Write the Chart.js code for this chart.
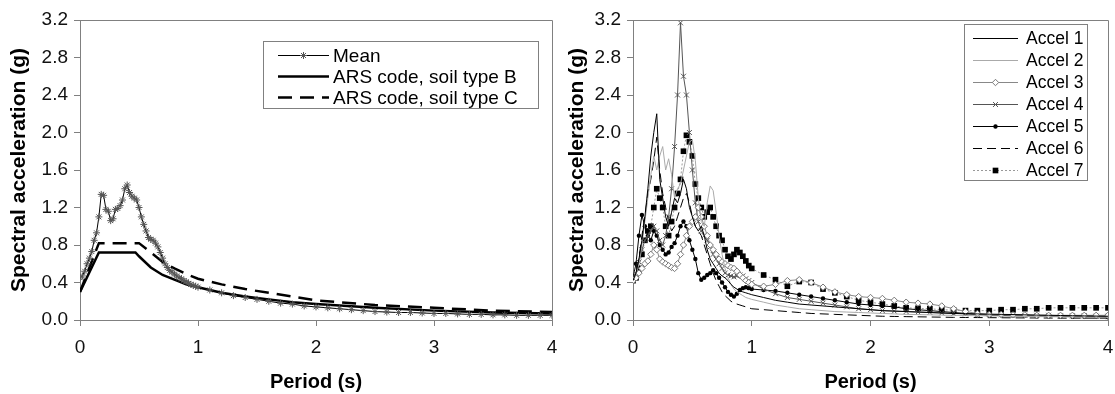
<!DOCTYPE html>
<html><head><meta charset="utf-8">
<script src="https://cdn.jsdelivr.net/npm/chart.js@4.4.1/dist/chart.umd.min.js"></script>
<style>
html,body{margin:0;padding:0;background:#fff;width:1115px;height:394px;overflow:hidden}
#c1{position:absolute;left:0;top:0;width:558px;height:394px}
#c2{position:absolute;left:558px;top:0;width:557px;height:394px}
</style></head><body>
<canvas id="c1" width="558" height="394"></canvas>
<canvas id="c2" width="557" height="394"></canvas>
<script>
// ---------- DATA ----------
const xTickValues = [0, 1, 2, 3, 4];
const xTickLabels = ['0', '1', '2', '3', '4'];
const yTickValues = [0, 0.4, 0.8, 1.2, 1.6, 2.0, 2.4, 2.8, 3.2];
const yTickLabels = ['0.0', '0.4', '0.8', '1.2', '1.6', '2.0', '2.4', '2.8', '3.2'];

const meanPeriods = [0,0.02,0.04,0.06,0.08,0.1,0.12,0.14,0.16,0.18,0.2,0.22,0.24,0.26,0.28,0.3,0.32,0.34,0.36,0.38,0.4,0.42,0.44,0.46,0.48,0.5,0.52,0.54,0.56,0.58,0.6,0.62,0.64,0.66,0.68,0.7,0.72,0.74,0.76,0.78,0.8,0.82,0.84,0.86,0.88,0.9,0.92,0.94,0.96,0.98,1.0,1.1,1.2,1.3,1.4,1.5,1.6,1.7,1.8,1.9,2.0,2.1,2.2,2.3,2.4,2.5,2.6,2.7,2.8,2.9,3.0,3.1,3.2,3.3,3.4,3.5,3.6,3.7,3.8,3.9,4.0];
const meanValues = [0.45,0.47,0.52,0.60,0.66,0.73,0.85,0.93,1.10,1.34,1.33,1.18,1.16,1.06,1.08,1.18,1.19,1.22,1.28,1.40,1.44,1.36,1.32,1.30,1.28,1.20,1.10,1.02,0.95,0.88,0.86,0.85,0.82,0.78,0.72,0.66,0.60,0.56,0.53,0.51,0.49,0.47,0.45,0.44,0.42,0.41,0.39,0.38,0.37,0.36,0.35,
  0.32,0.29,0.26,0.24,0.22,0.20,0.18,0.17,0.15,0.14,0.13,0.12,0.11,0.10,0.09,0.085,0.08,0.08,0.075,0.07,0.07,0.065,0.06,0.06,0.055,0.055,0.05,0.05,0.05,0.05];

const codeBPeriods = [0,0.16,0.47,0.5,0.6,0.7,0.8,0.9,1.0,1.2,1.4,1.6,1.8,2.0,2.5,3.0,3.5,4.0];
const codeBValues  = [0.30,0.72,0.72,0.68,0.56,0.48,0.43,0.38,0.35,0.29,0.25,0.22,0.19,0.17,0.13,0.10,0.08,0.07];
const codeCPeriods = [0,0.16,0.5,0.6,0.7,0.8,0.9,1.0,1.2,1.4,1.6,1.8,2.0,2.5,3.0,3.5,4.0];
const codeCValues  = [0.30,0.82,0.82,0.72,0.62,0.55,0.49,0.44,0.38,0.33,0.29,0.25,0.21,0.16,0.13,0.10,0.085];

const accelPeriods = [0,0.025,0.05,0.075,0.1,0.125,0.15,0.175,0.2,0.225,0.25,0.275,0.3,0.325,0.35,0.375,0.4,0.425,0.45,0.475,0.5,0.525,0.55,0.575,0.6,0.625,0.65,0.675,0.7,0.725,0.75,0.775,0.8,0.825,0.85,0.875,0.9,0.925,0.95,0.975,1.0,
  1.1,1.2,1.3,1.4,1.5,1.6,1.7,1.8,1.9,2.0,2.1,2.2,2.3,2.4,2.5,2.6,2.7,2.8,2.9,3.0,3.1,3.2,3.3,3.4,3.5,3.6,3.7,3.8,3.9,4.0];
const accel1 = [0.42,0.50,0.65,0.85,1.10,1.40,1.75,2.00,2.20,1.50,1.30,1.10,1.00,1.15,1.30,1.25,1.35,1.50,1.40,1.20,1.10,1.00,0.95,1.00,0.90,0.75,0.65,0.60,0.55,0.50,0.47,0.45,0.42,0.38,0.35,0.33,0.31,0.30,0.29,0.28,0.27,
  0.24,0.21,0.19,0.17,0.16,0.15,0.14,0.13,0.12,0.11,0.10,0.095,0.09,0.085,0.08,0.075,0.07,0.068,0.065,0.062,0.06,0.058,0.055,0.052,0.05,0.048,0.046,0.044,0.042,0.04];
const accel2 = [0.42,0.48,0.60,0.80,1.05,1.30,1.55,1.75,1.60,1.75,1.85,1.60,1.72,1.55,1.30,1.40,1.45,1.60,1.75,1.90,1.92,1.70,1.30,1.05,1.00,1.25,1.43,1.38,1.15,0.90,0.70,0.55,0.45,0.38,0.33,0.30,0.28,0.26,0.24,0.23,0.22,
  0.19,0.16,0.14,0.12,0.11,0.10,0.09,0.085,0.08,0.075,0.07,0.065,0.06,0.058,0.055,0.052,0.05,0.048,0.046,0.044,0.042,0.04,0.038,0.036,0.035,0.034,0.033,0.032,0.031,0.03];
const accel3 = [0.42,0.45,0.50,0.55,0.60,0.63,0.70,0.80,0.75,0.65,0.62,0.60,0.58,0.56,0.55,0.60,0.70,0.80,0.90,1.00,1.05,1.10,1.20,1.10,1.00,0.90,0.80,0.75,0.70,0.65,0.62,0.60,0.58,0.56,0.55,0.52,0.48,0.45,0.42,0.40,0.38,
  0.36,0.38,0.42,0.43,0.40,0.35,0.30,0.27,0.25,0.24,0.23,0.21,0.19,0.18,0.17,0.15,0.12,0.09,0.07,0.06,0.06,0.055,0.055,0.05,0.05,0.05,0.05,0.05,0.05,0.05];
const accel4 = [0.42,0.50,0.62,0.75,0.85,0.90,0.95,1.00,0.95,0.85,0.80,0.90,1.10,1.40,1.85,2.40,3.17,2.60,2.40,2.00,1.60,1.25,1.05,0.95,0.90,0.85,0.78,0.70,0.65,0.60,0.55,0.50,0.48,0.47,0.46,0.47,0.48,0.47,0.44,0.42,0.40,
  0.33,0.28,0.24,0.22,0.20,0.18,0.16,0.14,0.12,0.11,0.10,0.095,0.09,0.085,0.08,0.075,0.07,0.065,0.06,0.06,0.055,0.055,0.05,0.05,0.05,0.045,0.045,0.045,0.04,0.04];
const accel5 = [0.45,0.60,0.90,1.12,1.00,0.90,0.85,0.95,0.90,0.80,0.75,0.70,0.72,0.78,0.82,0.90,1.00,1.05,1.00,0.85,0.75,0.65,0.50,0.43,0.45,0.48,0.50,0.53,0.50,0.45,0.40,0.35,0.30,0.27,0.25,0.28,0.32,0.34,0.35,0.34,0.33,
  0.32,0.31,0.29,0.27,0.25,0.23,0.21,0.19,0.17,0.16,0.15,0.14,0.12,0.11,0.10,0.09,0.08,0.07,0.06,0.05,0.05,0.045,0.045,0.04,0.04,0.04,0.035,0.035,0.035,0.03];
const accel6 = [0.42,0.50,0.65,0.90,1.10,1.35,1.50,1.70,1.95,1.60,1.35,1.20,1.05,0.95,1.00,1.10,1.20,1.30,1.35,1.25,1.10,1.00,0.95,0.90,0.80,0.70,0.60,0.50,0.42,0.36,0.30,0.26,0.23,0.20,0.18,0.17,0.16,0.15,0.14,0.13,0.12,
  0.11,0.10,0.09,0.08,0.07,0.065,0.06,0.055,0.05,0.045,0.04,0.038,0.036,0.034,0.032,0.03,0.028,0.027,0.026,0.025,0.024,0.023,0.022,0.022,0.021,0.02,0.02,0.02,0.02,0.02];
const accel7 = [0.42,0.45,0.55,0.70,0.85,0.95,1.00,1.20,1.40,1.30,1.20,1.00,0.90,1.05,1.20,1.35,1.50,1.80,1.97,1.90,1.75,1.45,1.30,1.20,1.10,1.15,1.20,1.10,1.00,0.90,0.85,0.75,0.68,0.65,0.70,0.75,0.72,0.68,0.63,0.58,0.55,
  0.48,0.43,0.36,0.41,0.40,0.33,0.29,0.25,0.21,0.19,0.17,0.15,0.13,0.125,0.12,0.11,0.105,0.10,0.10,0.10,0.11,0.11,0.12,0.12,0.13,0.13,0.13,0.13,0.13,0.13];

// ---------- HELPERS ----------
const FONT = "'Liberation Sans', Arial, sans-serif";
const AXIS_GRAY = '#808080';
const pts = (xs, ys) => xs.map((x, i) => ({x: x, y: ys[i]}));

const framePlugin = {
  id: 'frame',
  afterDatasetsDraw(chart) {
    const a = chart.chartArea, ctx = chart.ctx;
    ctx.save();
    ctx.strokeStyle = AXIS_GRAY; ctx.lineWidth = 1;
    ctx.beginPath();
    ctx.moveTo(Math.round(a.left) + 0.5, Math.round(a.top) + 0.5);
    ctx.lineTo(Math.round(a.right) + 0.5, Math.round(a.top) + 0.5);
    ctx.lineTo(Math.round(a.right) + 0.5, Math.round(a.bottom) + 0.5);
    ctx.stroke();
    ctx.restore();
  }
};

const boxLegend = {
  id: 'boxLegend',
  afterDraw(chart, args, o) {
    const ctx = chart.ctx;
    ctx.save();
    ctx.fillStyle = '#fff';
    ctx.fillRect(o.x, o.y, o.w, o.h);
    ctx.strokeStyle = AXIS_GRAY; ctx.lineWidth = 1;
    ctx.strokeRect(o.x + 0.5, o.y + 0.5, o.w, o.h);
    chart.data.datasets.forEach((ds, i) => {
      const cy = Math.round(o.rowY + i * o.rowH) + 0.5;
      ctx.save();
      ctx.strokeStyle = ds.borderColor;
      ctx.lineWidth = ds.borderWidth;
      ctx.setLineDash(ds.borderDash || []);
      ctx.beginPath(); ctx.moveTo(o.sx0, cy); ctx.lineTo(o.sx1, cy); ctx.stroke();
      ctx.setLineDash([]);
      if (ds.pointRadius > 0) {
        ctx.fillStyle = ds.pointBackgroundColor;
        ctx.strokeStyle = ds.pointBorderColor;
        ctx.lineWidth = ds.pointBorderWidth;
        Chart.helpers.drawPoint(ctx, {pointStyle: ds.pointStyle, radius: ds.pointRadius, borderWidth: ds.pointBorderWidth, rotation: 0}, (o.sx0 + o.sx1) / 2, cy);
      }
      ctx.fillStyle = '#000';
      ctx.font = o.font;
      ctx.textBaseline = 'middle';
      ctx.textAlign = 'left';
      ctx.fillText(ds.label, o.tx, cy + 1);
      ctx.restore();
    });
    ctx.restore();
  }
};

function makeScales(yWidth) {
  const grid = {display: true, drawOnChartArea: false, drawTicks: true, tickLength: 6, color: AXIS_GRAY, tickColor: AXIS_GRAY, lineWidth: 1};
  return {
    x: {
      type: 'linear', min: 0, max: 4,
      afterBuildTicks: s => { s.ticks = xTickValues.map(v => ({value: v})); },
      afterFit: s => { s.height = 74; s.paddingLeft = 0; s.paddingRight = 0; },
      grid: grid,
      border: {display: true, color: AXIS_GRAY, width: 1},
      ticks: {color: '#111', font: {family: FONT, size: 19}, padding: 10, maxRotation: 0,
              callback: (v, i) => xTickLabels[i]},
      title: {display: true, text: 'Period (s)', color: '#000', font: {family: FONT, size: 20, weight: 'bold'}, padding: {top: 0, bottom: 0}}
    },
    y: {
      type: 'linear', min: 0, max: 3.2,
      afterBuildTicks: s => { s.ticks = yTickValues.map(v => ({value: v})); },
      afterFit: s => { s.width = yWidth; s.paddingTop = 0; s.paddingBottom = 0; },
      grid: grid,
      border: {display: true, color: AXIS_GRAY, width: 1},
      ticks: {color: '#111', font: {family: FONT, size: 19}, padding: 6,
              callback: (v, i) => yTickLabels[i]},
      title: {display: true, text: 'Spectral acceleration (g)', color: '#000', font: {family: FONT, size: 21, weight: 'bold'}, padding: {top: 7, bottom: 0}}
    }
  };
}

const common = {
  responsive: false, animation: false, devicePixelRatio: 1,
  elements: {line: {tension: 0}},
  events: []
};

// ---------- LEFT CHART ----------
new Chart(document.getElementById('c1'), {
  type: 'line',
  data: {
    datasets: [
      {label: 'Mean', data: pts(meanPeriods, meanValues), borderColor: '#000', borderWidth: 1,
       pointStyle: 'star', pointRadius: 3.5, pointBorderColor: '#555', pointBackgroundColor: '#555', pointBorderWidth: 1},
      {label: 'ARS code, soil type B', data: pts(codeBPeriods, codeBValues), borderColor: '#000', borderWidth: 2.5, pointRadius: 0,
       pointStyle: 'circle', pointBorderColor: '#000', pointBackgroundColor: '#000', pointBorderWidth: 0},
      {label: 'ARS code, soil type C', data: pts(codeCPeriods, codeCValues), borderColor: '#000', borderWidth: 2.5, borderDash: [14, 8], pointRadius: 0,
       pointStyle: 'circle', pointBorderColor: '#000', pointBackgroundColor: '#000', pointBorderWidth: 0}
    ]
  },
  options: Object.assign({}, common, {
    layout: {padding: {left: 0, top: 20, right: 6, bottom: 0}},
    scales: makeScales(80),
    plugins: {
      legend: {display: false}, tooltip: {enabled: false},
      boxLegend: {x: 263, y: 41, w: 275, h: 67, rowY: 55, rowH: 20.8, sx0: 278, sx1: 329, tx: 333, font: "19px " + FONT}
    }
  }),
  plugins: [framePlugin, boxLegend]
});

// ---------- RIGHT CHART ----------
new Chart(document.getElementById('c2'), {
  type: 'line',
  data: {
    datasets: [
      {label: 'Accel 1', data: pts(accelPeriods, accel1), borderColor: '#000', borderWidth: 1, pointRadius: 0,
       pointStyle: 'circle', pointBorderColor: '#000', pointBackgroundColor: '#000', pointBorderWidth: 0},
      {label: 'Accel 2', data: pts(accelPeriods, accel2), borderColor: '#aaaaaa', borderWidth: 1, pointRadius: 0,
       pointStyle: 'circle', pointBorderColor: '#aaa', pointBackgroundColor: '#aaa', pointBorderWidth: 0},
      {label: 'Accel 3', data: pts(accelPeriods, accel3), borderColor: '#888888', borderWidth: 1,
       pointStyle: 'rectRot', pointRadius: 3.2, pointBorderColor: '#777', pointBackgroundColor: '#fff', pointBorderWidth: 1},
      {label: 'Accel 4', data: pts(accelPeriods, accel4), borderColor: '#555555', borderWidth: 1,
       pointStyle: 'crossRot', pointRadius: 3.5, pointBorderColor: '#555', pointBackgroundColor: '#555', pointBorderWidth: 1},
      {label: 'Accel 5', data: pts(accelPeriods, accel5), borderColor: '#000', borderWidth: 1,
       pointStyle: 'circle', pointRadius: 2.2, pointBorderColor: '#000', pointBackgroundColor: '#000', pointBorderWidth: 0},
      {label: 'Accel 6', data: pts(accelPeriods, accel6), borderColor: '#000', borderWidth: 1, borderDash: [9, 5], pointRadius: 0,
       pointStyle: 'circle', pointBorderColor: '#000', pointBackgroundColor: '#000', pointBorderWidth: 0},
      {label: 'Accel 7', data: pts(accelPeriods, accel7), borderColor: '#999999', borderWidth: 1, borderDash: [2, 2],
       pointStyle: 'rect', pointRadius: 4, pointBorderColor: '#000', pointBackgroundColor: '#000', pointBorderWidth: 0}
    ]
  },
  options: Object.assign({}, common, {
    layout: {padding: {left: 0, top: 20, right: 7, bottom: 0}},
    scales: makeScales(75),
    plugins: {
      legend: {display: false}, tooltip: {enabled: false},
      boxLegend: {x: 406, y: 24, w: 123, h: 156, rowY: 38.3, rowH: 21.95, sx0: 415, sx1: 460, tx: 468, font: "17.5px " + FONT}
    }
  }),
  plugins: [framePlugin, boxLegend]
});
</script>
</body></html>
